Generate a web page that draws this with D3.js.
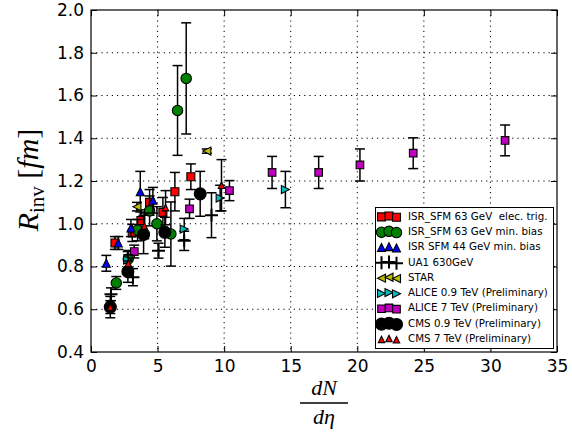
<!DOCTYPE html>
<html>
<head>
<meta charset="utf-8">
<title>R_inv vs dN/deta</title>
<script src="https://d3js.org/d3.v7.min.js"></script>
<style>
  body { margin: 0; background: #fff; }
  svg { font-family: "DejaVu Sans", sans-serif; }
  .tick text { font-size: 17px; fill: #000; }
  .legend text { font-size: 10.3px; white-space: pre; }
</style>
</head>
<body>
<svg id="chart" width="572" height="444"></svg>
<script>
// data rows: [dN/deta, R_inv (fm), error]
const isr63Elec = [[1.8, 0.91, 0.03], [3.1, 0.957, 0.04], [3.75, 1.015, 0.05], [4.4, 1.10, 0.06],
                   [5.4, 1.053, 0.07], [6.3, 1.15, 0.09], [7.5, 1.22, 0.06]];
const isr63Min = [[1.9, 0.723, 0.03], [2.8, 0.835, 0.04], [3.5, 0.97, 0.05], [4.4, 1.06, 0.07],
                  [4.95, 1.0, 0.08], [6.0, 0.952, 0.15], [6.5, 1.53, 0.21], [7.15, 1.68, 0.26]];
const isr44Min = [[1.15, 0.815, 0.037], [2.05, 0.91, 0.03], [3.0, 0.98, 0.04], [3.7, 1.15, 0.095],
                  [4.65, 1.11, 0.06]];
const ua1 = [[1.5, 0.67, 0.03], [3.15, 0.75, 0.04], [5.07, 0.874, 0.035], [7.0, 0.92, 0.045],
             [9.05, 1.04, 0.105]];
const star = [[3.45, 1.08, 0.02], [8.7, 1.34, 0.01]];
const alice09 = [[2.75, 0.83, 0.04], [7.0, 0.975, 0.05], [9.7, 1.12, 0.06], [14.6, 1.16, 0.085]];
const alice7 = [[3.25, 0.87, 0.03], [7.4, 1.07, 0.045], [10.4, 1.155, 0.047], [13.6, 1.24, 0.075],
                [17.1, 1.24, 0.075], [20.2, 1.275, 0.075], [24.2, 1.33, 0.072], [31.1, 1.39, 0.072]];
const cms09 = [[1.45, 0.61, 0.05], [2.77, 0.776, 0.05], [3.95, 0.95, 0.09], [5.55, 0.96, 0.07],
               [8.2, 1.14, 0.105]];
const cms7 = [[1.45, 0.61, 0.03], [2.8, 0.815, 0.04], [4.0, 0.99, 0.06], [5.6, 1.075, 0.08],
              [9.8, 1.18, 0.12]];

const seriesNames = ["ISR_SFM 63 GeV  elec. trig.", "ISR_SFM 63 GeV min. bias", "ISR SFM 44 GeV min. bias",
  "UA1 630GeV", "STAR", "ALICE 0.9 TeV (Preliminary)", "ALICE 7 TeV (Preliminary)",
  "CMS 0.9 TeV (Preliminary)", "CMS 7 TeV (Preliminary)"];
const xTicks = [0, 5, 10, 15, 20, 25, 30, 35];
const yTicks = [0.4, 0.6, 0.8, 1.0, 1.2, 1.4, 1.6, 1.8, 2.0];

// marker styles
const styles = [
  { data: isr63Elec, shape: "square", fill: "#ff0000", r: 4 },
  { data: isr63Min, shape: "circle", fill: "#008000", r: 5.2 },
  { data: isr44Min, shape: "up", fill: "#0000ff", r: 4 },
  { data: ua1, shape: "plus", fill: "#000", r: 6.5 },
  { data: star, shape: "left", fill: "#bfbf00", r: 4 },
  { data: alice09, shape: "right", fill: "#00bfbf", r: 4 },
  { data: alice7, shape: "square", fill: "#bf00bf", r: 3.8 },
  { data: cms09, shape: "circle", fill: "#000", r: 6 },
  { data: cms7, shape: "up", fill: "#ff0000", r: 3.2 }
];

function markerPath(shape, r) {
  if (shape === "square") return `M${-r},${-r}H${r}V${r}H${-r}Z`;
  if (shape === "circle") return d3.symbol(d3.symbolCircle, Math.PI * r * r)();
  if (shape === "up") return `M0,${-r}L${r},${r}L${-r},${r}Z`;
  if (shape === "left") return `M${-r},0L${r},${-r}L${r},${r}Z`;
  if (shape === "right") return `M${r},0L${-r},${-r}L${-r},${r}Z`;
  return `M${-r},0H${r}M0,${-r}V${r}`;
}

const svg = d3.select("#chart");
const pLeft = 91, pRight = 557, pTop = 10, pBottom = 352;

const x = d3.scaleLinear().domain([0, 35]).range([pLeft, pRight]);
const y = d3.scaleLinear().domain([0.4, 2.0]).range([pBottom, pTop]);

// grid
const grid = svg.append("g")
  .attr("stroke", "#000")
  .attr("stroke-width", 1)
  .attr("stroke-dasharray", "1.2,4");
grid.selectAll(".vg")
  .data(xTicks.slice(1, -1))
  .enter().append("line")
    .attr("x1", d => x(d)).attr("x2", d => x(d))
    .attr("y1", pTop).attr("y2", pBottom);
grid.selectAll(".hg")
  .data(yTicks.slice(1, -1))
  .enter().append("line")
    .attr("x1", pLeft).attr("x2", pRight)
    .attr("y1", d => y(d)).attr("y2", d => y(d));

// axes, ticks pointing inward
svg.append("g")
  .attr("transform", `translate(0,${pBottom})`)
  .call(d3.axisBottom(x).tickValues(xTicks).tickFormat(d3.format("d")).tickSize(-6).tickPadding(8));
svg.append("g")
  .attr("transform", `translate(${pLeft},0)`)
  .call(d3.axisLeft(y).tickValues(yTicks).tickFormat(d3.format(".1f")).tickSize(-6).tickPadding(7));
svg.append("g")
  .attr("transform", `translate(0,${pTop})`)
  .call(d3.axisTop(x).tickValues(xTicks).tickFormat("").tickSize(-6));
svg.append("g")
  .attr("transform", `translate(${pRight},0)`)
  .call(d3.axisRight(y).tickValues(yTicks).tickFormat("").tickSize(-6));
svg.selectAll(".domain").remove();
svg.selectAll(".tick line").attr("stroke", "#000").attr("stroke-width", 1);
svg.selectAll(".tick text").attr("font-family", "DejaVu Sans");

// data
styles.forEach(function(s) {
  const g = svg.append("g");
  const eb = g.selectAll(".eb")
    .data(s.data)
    .enter().append("g")
      .attr("stroke", "#000")
      .attr("stroke-width", 1.5);
  eb.append("line")
    .attr("x1", d => x(d[0])).attr("x2", d => x(d[0]))
    .attr("y1", d => y(d[1] - d[2])).attr("y2", d => y(d[1] + d[2]));
  eb.append("line")
    .attr("x1", d => x(d[0]) - 5).attr("x2", d => x(d[0]) + 5)
    .attr("y1", d => y(d[1] - d[2])).attr("y2", d => y(d[1] - d[2]));
  eb.append("line")
    .attr("x1", d => x(d[0]) - 5).attr("x2", d => x(d[0]) + 5)
    .attr("y1", d => y(d[1] + d[2])).attr("y2", d => y(d[1] + d[2]));
  g.selectAll(".mk")
    .data(s.data)
    .enter().append("path")
      .attr("d", markerPath(s.shape, s.r))
      .attr("transform", d => `translate(${x(d[0])},${y(d[1])})`)
      .attr("fill", s.shape === "plus" ? "none" : s.fill)
      .attr("stroke", "#000")
      .attr("stroke-width", s.shape === "plus" ? 2 : 1.1);
});

// frame
svg.append("rect")
  .attr("x", pLeft).attr("y", pTop)
  .attr("width", pRight - pLeft).attr("height", pBottom - pTop)
  .attr("fill", "none").attr("stroke", "#000").attr("stroke-width", 1.2);

// legend
const legend = svg.append("g").classed("legend", true);
legend.append("rect")
  .attr("x", 375.5).attr("y", 207.5)
  .attr("width", 178).attr("height", 141)
  .attr("fill", "#fff").attr("stroke", "#000").attr("stroke-width", 1);
const rowY = d3.scaleLinear().domain([0, 8]).range([216, 338.5]);
const offsets = [[381.5, 0.9], [389, 0], [396.5, 1.3]];
styles.forEach(function(s, i) {
  const row = legend.append("g").attr("transform", `translate(0,${rowY(i)})`);
  row.selectAll("path")
    .data(offsets)
    .enter().append("path")
      .attr("d", markerPath(s.shape, s.r))
      .attr("transform", d => `translate(${d[0]},${d[1]})`)
      .attr("fill", s.shape === "plus" ? "none" : s.fill)
      .attr("stroke", "#000")
      .attr("stroke-width", s.shape === "plus" ? 2 : 1.1);
  row.append("text")
    .attr("x", 408)
    .attr("dy", "0.35em")
    .text(seriesNames[i]);
});

// y label
const yl = svg.append("text")
  .attr("transform", "translate(38,180) rotate(-90)")
  .attr("text-anchor", "middle")
  .attr("font-family", "Liberation Serif, serif")
  .attr("font-size", 30);
yl.append("tspan").attr("font-style", "italic").text("R");
yl.append("tspan").attr("font-size", 21).attr("dy", 6).text("inv");
yl.append("tspan").attr("dy", -6).text(" [");
yl.append("tspan").attr("font-style", "italic").text("fm");
yl.append("tspan").text("]");

// x label: dN / d eta
const cx = (pLeft + pRight) / 2;
svg.append("text")
  .attr("x", cx).attr("y", 395)
  .attr("text-anchor", "middle")
  .attr("font-family", "Liberation Serif, serif")
  .attr("font-style", "italic")
  .attr("font-size", 22)
  .text("dN");
svg.append("line")
  .attr("x1", cx - 24).attr("x2", cx + 24)
  .attr("y1", 403).attr("y2", 403)
  .attr("stroke", "#000").attr("stroke-width", 1.5);
svg.append("text")
  .attr("x", cx).attr("y", 424)
  .attr("text-anchor", "middle")
  .attr("font-family", "Liberation Serif, serif")
  .attr("font-style", "italic")
  .attr("font-size", 22)
  .text("dη");
</script>
</body>
</html>
